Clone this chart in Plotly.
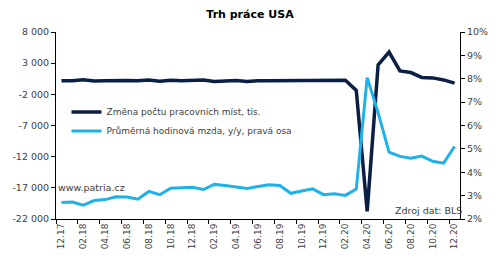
import plotly.graph_objects as go

months = ["12.17", "01.18", "02.18", "03.18", "04.18", "05.18", "06.18", "07.18", "08.18", "09.18",
          "10.18", "11.18", "12.18", "01.19", "02.19", "03.19", "04.19", "05.19", "06.19", "07.19",
          "08.19", "09.19", "10.19", "11.19", "12.19", "01.20", "02.20", "03.20", "04.20", "05.20",
          "06.20", "07.20", "08.20", "09.20", "10.20", "11.20", "12.20"]

jobs_change = [175, 176, 324, 155, 175, 270, 235, 178, 282, 108, 277, 196, 227, 312, 56, 196, 224,
               72, 193, 166, 164, 219, 136, 266, 184, 214, 251, -1373, -20787, 2725, 4781, 1761,
               1493, 711, 640, 310, -210]

wage_yoy = [2.71, 2.73, 2.59, 2.79, 2.83, 2.95, 2.94, 2.85, 3.18, 3.04, 3.32, 3.34, 3.36, 3.26, 3.48,
            3.43, 3.37, 3.31, 3.39, 3.46, 3.43, 3.10, 3.20, 3.29, 3.04, 3.08, 3.01, 3.28, 8.05,
            6.55, 4.86, 4.68, 4.60, 4.69, 4.47, 4.39, 5.10]

left_ticks = [8000, 3000, -2000, -7000, -12000, -17000, -22000]
left_labels = ["8 000", "3 000", "-2 000", "-7 000", "-12 000", "-17 000", "-22 000"]
right_ticks = [2, 3, 4, 5, 6, 7, 8, 9, 10]
right_labels = ["2%", "3%", "4%", "5%", "6%", "7%", "8%", "9%", "10%"]

name_jobs = "Změna počtu pracovních míst, tis."
name_wage = "Průměrná hodinová mzda, y/y, pravá osa"

FONT = "DejaVu Sans"
DARK = "#0b1f45"
LIGHT = "#1fb2e8"
TXT = "#404040"

x = list(range(len(months)))

fig = go.Figure()
fig.add_trace(go.Scatter(x=x, y=jobs_change, name=name_jobs, mode="lines",
                         line=dict(color=DARK, width=3.5), yaxis="y"))
fig.add_trace(go.Scatter(x=x, y=wage_yoy, name=name_wage, mode="lines",
                         line=dict(color=LIGHT, width=3), yaxis="y2"))

fig.update_layout(
    width=500, height=261,
    margin=dict(l=49, r=32, t=32, b=38),
    paper_bgcolor="white", plot_bgcolor="white",
    font=dict(family=FONT, size=9, color=TXT),
    title=dict(text="<b>Trh práce USA</b>", x=0.5, xanchor="center", y=0.945, yanchor="middle",
               font=dict(family=FONT, size=11, color="#000000")),
    xaxis=dict(range=[-0.5, len(months) - 0.5], tickmode="array",
               tickvals=x[::2], ticktext=months[::2], tickangle=-90,
               ticks="", showline=True, linecolor="black", linewidth=1,
               showgrid=False, zeroline=False, tickfont=dict(size=9, color=TXT),
               minor=dict(ticks="outside", tick0=-0.5, dtick=2, ticklen=4,
                          tickcolor="black", showgrid=False)),
    yaxis=dict(range=[-22000, 8000], tickmode="array", tickvals=left_ticks,
               ticktext=left_labels, ticks="outside", ticklen=4, tickcolor="black",
               showline=True, linecolor="black", linewidth=1, showgrid=False,
               zeroline=False, tickfont=dict(size=9.5, color=TXT)),
    yaxis2=dict(range=[2, 10], overlaying="y", side="right", tickmode="array",
                tickvals=right_ticks, ticktext=right_labels, ticks="outside", ticklen=4,
                tickcolor="black", showline=True, linecolor="black", linewidth=1,
                showgrid=False, zeroline=False, tickfont=dict(size=9.5, color=TXT)),
    legend=dict(x=0.026, y=0.65, xanchor="left", yanchor="top", bgcolor="rgba(0,0,0,0)",
                font=dict(size=9, color=TXT), tracegroupgap=0, itemwidth=30),
    showlegend=True,
)

fig.add_annotation(text="www.patria.cz", xref="paper", yref="paper", x=0.0, y=0.169,
                   xanchor="left", yanchor="middle", showarrow=False,
                   font=dict(size=9.5, color=TXT))
fig.add_annotation(text="Zdroj dat: BLS", xref="paper", yref="paper", x=1.01, y=0.046,
                   xanchor="right", yanchor="middle", showarrow=False,
                   font=dict(size=9.5, color=TXT))

fig.write_html("out.html")
